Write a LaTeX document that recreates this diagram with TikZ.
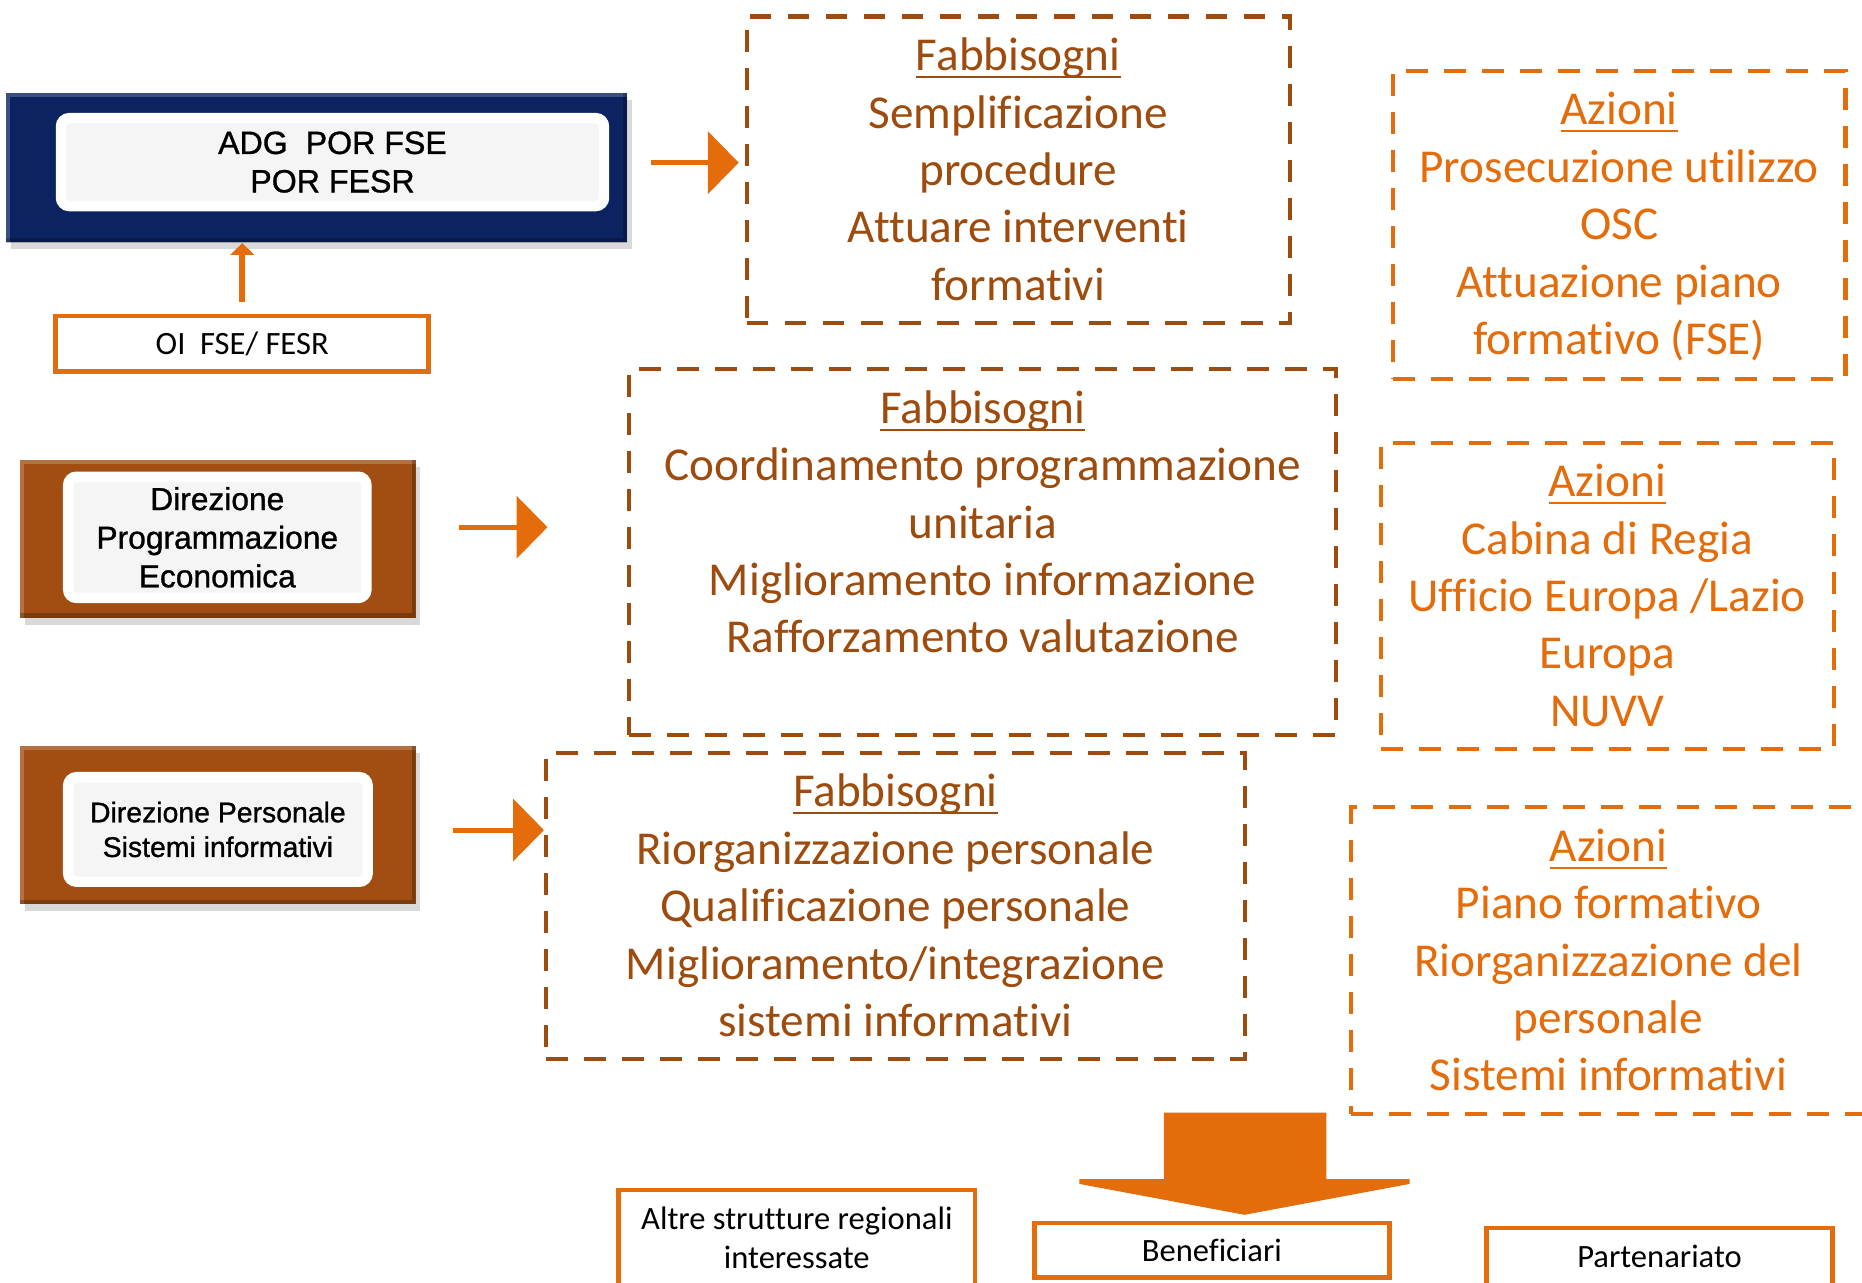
\documentclass[tikz,border=0pt]{standalone}
\usepackage{amsmath}
\usepackage{fontspec}
\setmainfont{Carlito}[Ligatures={NoCommon}]
\newfontfamily\arialfont{Liberation Sans}[FakeBold=1]
\usetikzlibrary{arrows.meta, positioning, shadows}
\definecolor{navyblue}{HTML}{0B2461}
\definecolor{boxbrown}{HTML}{A24E12}
\definecolor{fabbrown}{HTML}{9E4B0E}
\definecolor{azorange}{HTML}{E46C0A}
\definecolor{innergrey}{HTML}{F5F5F5}
\tikzstyle{outerbox}=[rectangle, draw=none, drop shadow={opacity=0.3, shadow xshift=0.4mm, shadow yshift=-0.6mm},
  path picture={\draw[white, opacity=0.2, line width=2pt] (path picture bounding box.south west) |- (path picture bounding box.north east);
                \draw[black, opacity=0.25, line width=2pt] (path picture bounding box.south west) -| (path picture bounding box.north east);}]
\tikzstyle{innerbox}=[rectangle, rounded corners=2pt, fill=innergrey, draw=white, line width=2.5pt, inner sep=1pt, align=center]
\tikzstyle{fabbox}=[rectangle, draw=fabbrown, line width=1pt, dash pattern=on 5.2pt off 3.9pt]
\tikzstyle{azbox}=[rectangle, draw=azorange, line width=1pt, dash pattern=on 5.2pt off 3.9pt]
\tikzstyle{fabtext}=[anchor=north, inner sep=0pt, align=center, text=fabbrown, font=\fontsize{11.3}{13.75}\selectfont]
\tikzstyle{aztext}=[fabtext, text=azorange]
\tikzstyle{smallbox}=[rectangle, draw=azorange, line width=1.1pt, align=center, font=\fontsize{7.8}{9.4}\selectfont]
\tikzstyle{arrow}=[azorange, line width=1.2pt, -{Triangle[length=0.26cm,width=0.52cm]}]
\tikzstyle{uparrow}=[azorange, line width=1.5pt, -{Triangle[length=0.1cm,width=0.2cm]}]
\newcommand{\head}[1]{\underline{\smash[b]{#1}}}

\begin{document}
\begin{tikzpicture}[x=0.01cm, y=-0.01cm]
	\useasboundingbox (0,0) rectangle (1568,1080);

	% left column
	\node [outerbox, fill=navyblue, minimum width=5.23cm, minimum height=1.26cm] (adg) at (266.5,141) {};
	\node [innerbox, minimum width=4.57cm, minimum height=0.74cm, font=\arialfont\fontsize{7.7}{9.2}\selectfont] (adgin) at (280,136.5) {ADG\ \ POR FSE\\POR FESR};
	\node [smallbox, minimum width=3.14cm, minimum height=0.47cm] (oi) at (204,289.5) {OI\ \ FSE/ FESR};
	\node [outerbox, fill=boxbrown, minimum width=3.33cm, minimum height=1.33cm] (dpe) at (183.5,453.5) {};
	\node [innerbox, minimum width=2.51cm, minimum height=1.02cm, font=\arialfont\fontsize{7.6}{9.25}\selectfont] (dpein) at (183,452.5) {Direzione\\Programmazione\\Economica};
	\node [outerbox, fill=boxbrown, minimum width=3.33cm, minimum height=1.33cm] (dps) at (183.5,694.5) {};
	\node [innerbox, minimum width=2.52cm, minimum height=0.88cm, font=\arialfont\fontsize{6.8}{8.3}\selectfont] (dpsin) at (183.5,698.5) {Direzione Personale\\Sistemi informativi};

	% fabbisogni
	\node [fabbox, minimum width=4.57cm, minimum height=2.58cm] (fab1) at (857.5,143) {};
	\node [fabtext, below=0.19cm of fab1.north] (fab1text) {\head{Fabbisogni}\\Semplificazione\\procedure\\Attuare interventi\\formativi};
	\node [fabbox, minimum width=5.95cm, minimum height=3.08cm] (fab2) at (827.5,465) {};
	\node [fabtext, below=0.19cm of fab2.north] (fab2text) {\head{Fabbisogni}\\Coordinamento programmazione\\unitaria\\Miglioramento informazione\\Rafforzamento valutazione};
	\node [fabbox, minimum width=5.88cm, minimum height=2.58cm] (fab3) at (754,763) {};
	\node [fabtext, below=0.19cm of fab3.north] (fab3text) {\head{Fabbisogni}\\Riorganizzazione personale\\Qualificazione personale\\Miglioramento/integrazione\\sistemi informativi};

	% azioni
	\node [azbox, minimum width=3.81cm, minimum height=2.59cm] (az1) at (1363.5,189.5) {};
	\node [aztext, below=0.19cm of az1.north] (az1text) {\head{Azioni}\\Prosecuzione utilizzo\\OSC\\Attuazione piano\\formativo (FSE)};
	\node [azbox, minimum width=3.81cm, minimum height=2.58cm] (az2) at (1353.5,502) {};
	\node [aztext, below=0.19cm of az2.north] (az2text) {\head{Azioni}\\Cabina di Regia\\Ufficio Europa /Lazio\\Europa\\NUVV};
	\node [azbox, minimum width=4.33cm, minimum height=2.58cm] (az3) at (1354.5,809) {};
	\node [aztext, below=0.19cm of az3.north] (az3text) {\head{Azioni}\\Piano formativo\\Riorganizzazione del\\personale\\Sistemi informativi};

	% bottom row
	\node [smallbox, minimum width=3.0cm, minimum height=0.81cm] (altre) at (671,1042.5) {Altre strutture regionali\\interessate};
	\node [smallbox, minimum width=2.99cm, minimum height=0.46cm] (ben) at (1020.5,1053) {Beneficiari};
	\node [smallbox, minimum width=2.91cm, minimum height=0.48cm] (part) at (1397.5,1058) {Partenariato};

	\draw [uparrow, shorten <=0.1cm] (oi.north) -- (oi.north |- adg.south);
	\draw [arrow] ([xshift=0.19cm, yshift=0.04cm]adg.east) -- ([xshift=-0.05cm, yshift=0.04cm]adg.east -| fab1.west);
	\draw [arrow] ([xshift=0.36cm, yshift=0.095cm]dpe.east) -- ([xshift=-0.67cm, yshift=0.095cm]dpe.east -| fab2.west);
	\draw [arrow] ([xshift=0.31cm, yshift=-0.045cm]dps.east) -- ([yshift=-0.045cm]dps.east -| fab3.west);

	% big arrow down to the beneficiari
	\fill [azorange] (980,937) -- (1117,937) -- (1117,993) -- (1187,993) -- (1187,997) -- (1048,1023)
		-- (909,997) -- (909,993) -- (980,993) -- cycle;
\end{tikzpicture}
\end{document}
